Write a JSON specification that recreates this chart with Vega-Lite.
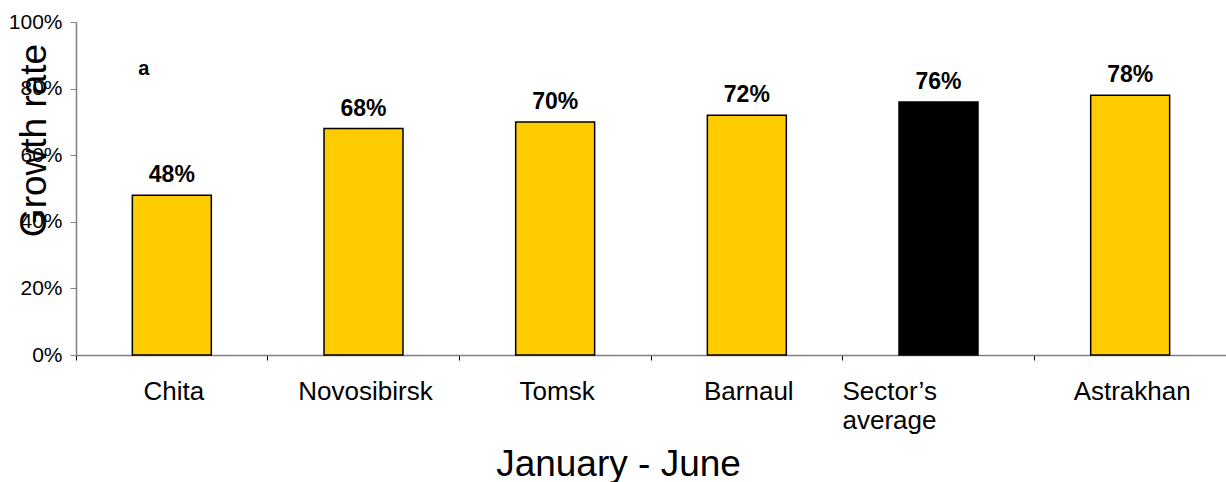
{
  "$schema": "https://vega.github.io/schema/vega-lite/v6.json",
  "width": 1150,
  "height": 333,
  "autosize": "none",
  "padding": {"left": 76, "top": 22, "right": 0, "bottom": 127},
  "background": "white",
  "config": {"view": {"stroke": null}, "font": "Liberation Sans"},
  "data": {
    "values": [
      {"city": "Chita", "rate": 0.48, "group": "region"},
      {"city": "Novosibirsk", "rate": 0.68, "group": "region"},
      {"city": "Tomsk", "rate": 0.70, "group": "region"},
      {"city": "Barnaul", "rate": 0.72, "group": "region"},
      {"city": "Sector’s average", "rate": 0.76, "group": "average"},
      {"city": "Astrakhan", "rate": 0.78, "group": "region"}
    ]
  },
  "layer": [
    {
      "mark": {"type": "bar", "width": {"band": 0.412}, "stroke": "#000000", "strokeWidth": 1.5},
      "encoding": {
        "x": {
          "field": "city", "type": "nominal", "sort": null,
          "scale": {"paddingInner": 0, "paddingOuter": 0},
          "title": "January - June",
          "axis": {
            "bandPosition": 0,
            "labelOffset": {"condition": {"test": "datum.value === 'Sector’s average'", "value": -96}, "value": 2},
            "labelAlign": {"condition": {"test": "datum.value === 'Sector’s average'", "value": "left"}, "value": "center"},
            "labelExpr": "datum.value === 'Sector’s average' ? ['Sector’s', 'average'] : datum.label",
            "labelFontSize": 26, "labelColor": "#000000", "labelAngle": 0, "labelPadding": 18,
            "labelLineHeight": 29, "labelLimit": 0, "labelOverlap": false, "labelBaseline": "top",
            "tickSize": 5, "tickColor": "#000000", "domainColor": "#808080", "domainWidth": 1.5,
            "titleFontSize": 37, "titleFontWeight": "normal", "titleColor": "#000000",
            "titleX": 542, "titleY": 120, "titleBaseline": "alphabetic", "titleAlign": "center"
          }
        },
        "y": {
          "field": "rate", "type": "quantitative",
          "scale": {"domain": [0, 1]},
          "title": "Growth rate",
          "axis": {
            "values": [0, 0.2, 0.4, 0.6, 0.8, 1], "format": ".0%", "grid": false,
            "labelFontSize": 21, "labelColor": "#000000", "labelPadding": 8,
            "tickSize": 6, "tickColor": "#808080", "domainColor": "#808080", "domainWidth": 1.5,
            "titleFontSize": 37, "titleFontWeight": "normal", "titleColor": "#000000",
            "titleAngle": 270, "titleX": -31, "titleY": 118, "titleBaseline": "alphabetic", "titleAlign": "center"
          }
        },
        "color": {
          "field": "group", "type": "nominal",
          "scale": {"domain": ["region", "average"], "range": ["#FFCC00", "#000000"]},
          "legend": null
        }
      }
    },
    {
      "mark": {"type": "text", "fontWeight": "bold", "fontSize": 23, "dy": -13, "baseline": "alphabetic", "color": "#000000"},
      "encoding": {
        "x": {"field": "city", "type": "nominal", "sort": null},
        "y": {"field": "rate", "type": "quantitative"},
        "text": {"field": "rate", "type": "quantitative", "format": ".0%"}
      }
    },
    {
      "data": {"values": [{"note": "a"}]},
      "mark": {"type": "text", "fontWeight": "bold", "fontSize": 20, "dx": -28, "baseline": "middle", "color": "#000000"},
      "encoding": {
        "x": {"datum": "Chita", "type": "nominal"},
        "y": {"datum": 0.86, "type": "quantitative"},
        "text": {"field": "note", "type": "nominal"}
      }
    }
  ]
}
